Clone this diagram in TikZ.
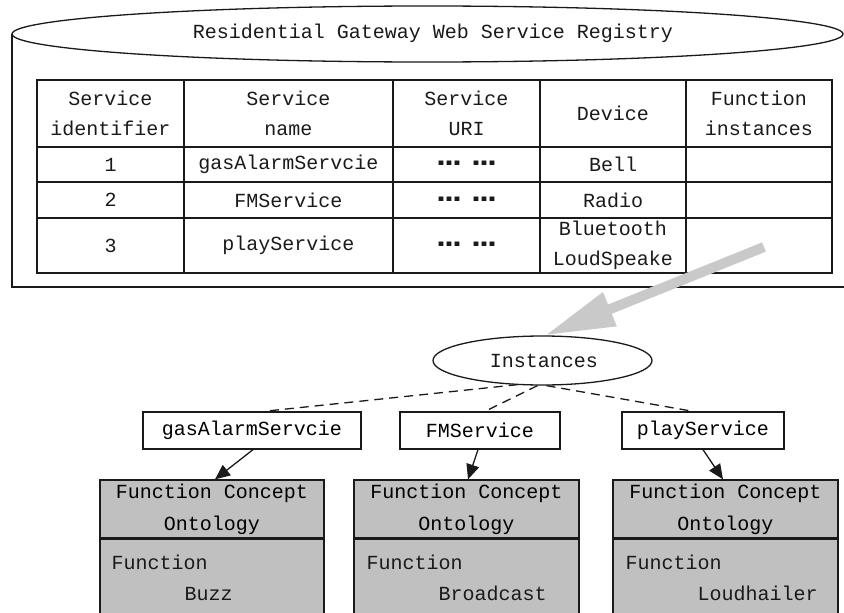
\documentclass[tikz,border=0pt]{standalone}
\usepackage{fontspec}
\newfontfamily\monof{Liberation Mono}
\usetikzlibrary{shapes.geometric,arrows.meta}
\definecolor{boxgray}{HTML}{C0C0C0}
\definecolor{arrgray}{HTML}{C9C9C9}
\definecolor{ink}{HTML}{1A1A1A}
\newcommand{\udots}{\raisebox{2pt}{\scalebox{1.9}[1.5]{…}}}
\begin{document}
\begin{tikzpicture}[x=1pt,y=-1pt,
  txt/.style={font=\monof\fontsize{20}{30}\selectfont, inner sep=0pt, align=center, text=ink},
  ln/.style={draw=ink, line width=1.3pt},
  svc/.style={ln, rectangle, fill=white, minimum height=37pt, inner sep=0pt, font=\monof\fontsize{20}{30}\selectfont},
  fco/.style={ln, rectangle, fill=boxgray, minimum height=58pt, inner sep=0pt, align=center, font=\monof\fontsize{20}{32}\selectfont},
  fbot/.style={ln, rectangle, fill=boxgray, minimum height=90pt, inner sep=0pt},
  ftxt/.style={txt, align=left, anchor=north west, font=\monof\fontsize{20}{31}\selectfont},
  blk/.style={draw=ink, line width=1.3pt, -{Triangle[length=15pt,width=13pt]}},
  dsh/.style={draw=ink, line width=1.3pt, dash pattern=on 9pt off 6pt},
  gry/.style={draw=arrgray, line width=10pt, -{Triangle[length=70pt,width=34pt]}},
  dots/.style={txt, font=\monof\bfseries\fontsize{20}{30}\selectfont}
]
\useasboundingbox (0,0) rectangle (844,613);
\clip (0,0) rectangle (844,613);

% registry cylinder
\draw[ln] (12,34) -- (12,287) -- (850,287);
\node[ellipse, ln, fill=white, minimum width=831pt, minimum height=56pt, inner sep=0pt] (reg) at (427.5,34) {};
\node[txt] (title) at (433,33) {Residential Gateway Web Service Registry};

% table grid
\draw[ln] (37,80) rectangle (832,273);
\foreach \y in {147,182,218} \draw[ln] (37,\y) -- (832,\y);
\foreach \x in {184,393,540,686} \draw[ln] (\x,80) -- (\x,273);

% header
\node[txt] (h1) at (110.5,113) {Service\\identifier};
\node[txt] (h2) at (288.5,113) {Service\\name};
\node[txt] (h3) at (466.5,113) {Service\\URI};
\node[txt] (h4) at (613,113) {Device};
\node[txt] (h5) at (759,113) {Function\\instances};
% rows
\node[txt] (r1a) at (110.5,164.5) {1};
\node[txt] (r1b) at (288.5,164.5) {gasAlarmServcie};
\node[dots] (r1c) at (466.5,164.5) {\udots\ \udots};
\node[txt] (r1d) at (613,164.5) {Bell};
\node[txt] (r2a) at (110.5,200) {2};
\node[txt] (r2b) at (288.5,200) {FMService};
\node[dots] (r2c) at (466.5,200) {\udots\ \udots};
\node[txt] (r2d) at (613,200) {Radio};
\node[txt] (r3a) at (110.5,245.5) {3};
\node[txt] (r3b) at (288.5,245.5) {playService};
\node[dots] (r3c) at (466.5,245.5) {\udots\ \udots};
\node[txt] (r3d) at (613,245) {Bluetooth\\LoudSpeake};

% instances
\node[ellipse, ln, fill=white, minimum width=219pt, minimum height=49pt, inner sep=0pt] (inst) at (542.5,360.5) {};
\node[txt] (insttxt) at (544,361) {Instances};

% gray arrow
\coordinate (gstart) at (764,247);
\draw[gry] (gstart) -- ([xshift=2.5pt]inst.north);

% services
\node[svc, minimum width=218pt] (gas) at (252,430.5) {gasAlarmServcie};
\node[svc, minimum width=160pt] (fm) at (480,430.5) {FMService};
\node[svc, minimum width=162pt] (play) at (703,430.5) {playService};

\draw[dsh] ([xshift=-25pt,yshift=1pt]inst.south) -- ([xshift=12pt]gas.north);
\draw[dsh] ([xshift=-5pt]inst.south) -- ([xshift=5pt]fm.north);
\draw[dsh] ([xshift=4pt]inst.south) -- ([xshift=-10pt]play.north);

% function concept boxes
\node[fco, minimum width=224pt] (f1) at (212,509) {Function Concept\\Ontology};
\node[fco, minimum width=225pt] (f2) at (466.5,509) {Function Concept\\Ontology};
\node[fco, minimum width=225pt] (f3) at (725.5,509) {Function Concept\\Ontology};
\node[fbot, minimum width=224pt, anchor=north] (f1b) at (f1.south) {};
\node[fbot, minimum width=225pt, anchor=north] (f2b) at (f2.south) {};
\node[fbot, minimum width=225pt, anchor=north] (f3b) at (f3.south) {};
\node[ftxt] (f1t) at ([xshift=12pt,yshift=-16pt]f1b.north west) {Function\\\hspace*{73pt}Buzz};
\node[ftxt] (f2t) at ([xshift=13pt,yshift=-16pt]f2b.north west) {Function\\\hspace*{72pt}Broadcast};
\node[ftxt] (f3t) at ([xshift=13pt,yshift=-16pt]f3b.north west) {Function\\\hspace*{72pt}Loudhailer};

\draw[blk] ([xshift=1pt]gas.south) -- ([xshift=3pt]f1.north);
\draw[blk] ([xshift=-2pt]fm.south) -- ([xshift=1.5pt]f2.north);
\draw[blk] (play.south) -- ([xshift=-2.5pt]f3.north);
\end{tikzpicture}
\end{document}
